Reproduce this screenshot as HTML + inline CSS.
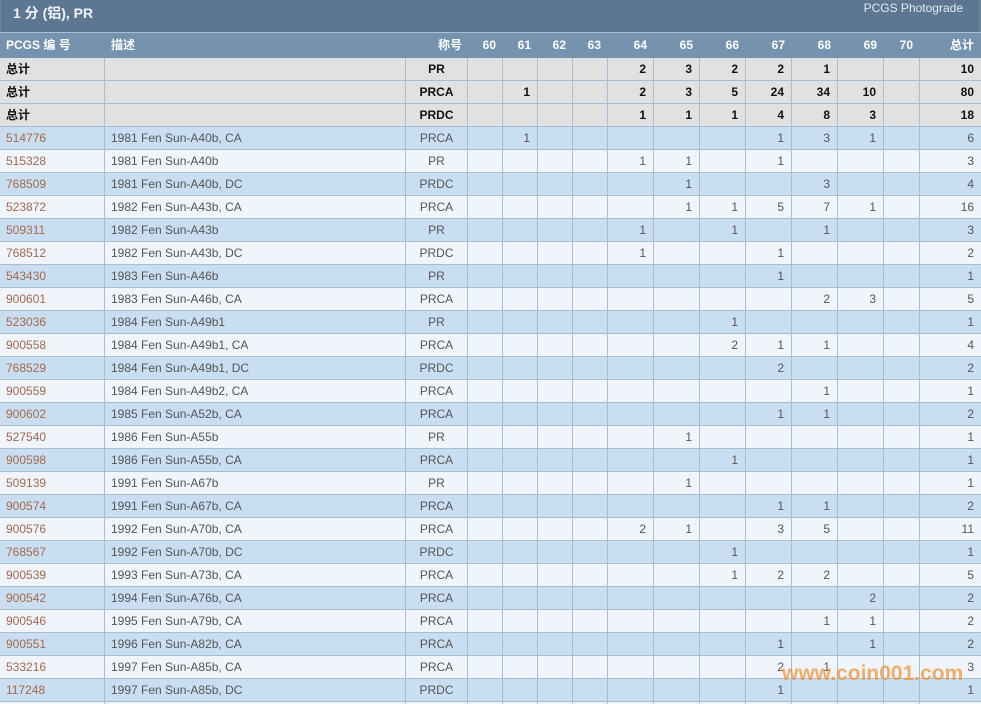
<!DOCTYPE html>
<html><head><meta charset="utf-8">
<style>
*{margin:0;padding:0;box-sizing:border-box}
html,body{width:981px;height:704px;overflow:hidden;background:#fff}
body{font-family:"Liberation Sans","Noto Sans CJK SC",sans-serif;font-size:12px;position:relative}
.top{position:absolute;left:0;top:0;width:981px;height:32px;background:#5d7792;border-left:1px solid #6d86a0;border-right:2px solid #6d86a0}
.top .t{position:absolute;left:12px;top:3px;font-size:14px;font-weight:bold;color:#eef3f8;font-family:"Liberation Sans","Noto Sans CJK SC",sans-serif}
.top .r{position:absolute;right:16px;top:1px;font-size:12px;color:#e2eaf2}
.sep{position:absolute;left:0;top:32px;width:981px;height:1px;background:#a9c0d6}
.rows{position:absolute;left:0;top:33px;width:981px}
.row{display:flex;height:23px;border-bottom:1px solid #a9bdd1;line-height:22px}
.row.h{height:25px;background:#7592ae;border-bottom:none;color:#fff;font-weight:bold;line-height:25px}
.row.g{background:#e1e1e1;color:#111;font-weight:bold}
.row.b{background:#c9dff1;color:#555}
.row.w{background:#eff5fb;color:#555}
.c{flex:none;border-right:1px solid #a9bdd1;padding:0 7px;text-align:right;white-space:nowrap;overflow:hidden}
.row.h .c{border-right:none}
.c:last-child{border-right:none}
.c0{width:105px;text-align:left;padding-left:6px}
.c1{width:301px;text-align:left;padding-left:6px}
.c2{width:62px;text-align:center;padding:0}
.n35{width:35px}
.n46{width:46px}
.n36{width:36px}
.c14{width:61px}
.lk{color:#a4694b}
.row.h .c0,.row.h .c1{padding-left:6px}
.wm{position:absolute;left:782px;top:662px;font-size:21px;font-weight:bold;color:rgba(240,145,50,0.72);letter-spacing:0px;font-family:"Liberation Sans",sans-serif}
</style></head><body>
<div class="top"><div class="t">1 分 (铝), PR</div><div class="r">PCGS Photograde</div></div>
<div class="sep"></div>
<div class="rows" id="rows">
<div class="row h"><div class="c c0">PCGS 编 号</div><div class="c c1">描述</div><div class="c c2" style="text-align:right;padding-right:6px">称号</div><div class="c n35">60</div><div class="c n35">61</div><div class="c n35">62</div><div class="c n35">63</div><div class="c n46">64</div><div class="c n46">65</div><div class="c n46">66</div><div class="c n46">67</div><div class="c n46">68</div><div class="c n46">69</div><div class="c n36">70</div><div class="c c14">总计</div></div>
<div class="row g"><div class="c c0">总计</div><div class="c c1"></div><div class="c c2">PR</div><div class="c n35"></div><div class="c n35"></div><div class="c n35"></div><div class="c n35"></div><div class="c n46">2</div><div class="c n46">3</div><div class="c n46">2</div><div class="c n46">2</div><div class="c n46">1</div><div class="c n46"></div><div class="c n36"></div><div class="c c14">10</div></div>
<div class="row g"><div class="c c0">总计</div><div class="c c1"></div><div class="c c2">PRCA</div><div class="c n35"></div><div class="c n35">1</div><div class="c n35"></div><div class="c n35"></div><div class="c n46">2</div><div class="c n46">3</div><div class="c n46">5</div><div class="c n46">24</div><div class="c n46">34</div><div class="c n46">10</div><div class="c n36"></div><div class="c c14">80</div></div>
<div class="row g"><div class="c c0">总计</div><div class="c c1"></div><div class="c c2">PRDC</div><div class="c n35"></div><div class="c n35"></div><div class="c n35"></div><div class="c n35"></div><div class="c n46">1</div><div class="c n46">1</div><div class="c n46">1</div><div class="c n46">4</div><div class="c n46">8</div><div class="c n46">3</div><div class="c n36"></div><div class="c c14">18</div></div>
<div class="row b"><div class="c c0"><span class="lk">514776</span></div><div class="c c1">1981 Fen Sun-A40b, CA</div><div class="c c2">PRCA</div><div class="c n35"></div><div class="c n35">1</div><div class="c n35"></div><div class="c n35"></div><div class="c n46"></div><div class="c n46"></div><div class="c n46"></div><div class="c n46">1</div><div class="c n46">3</div><div class="c n46">1</div><div class="c n36"></div><div class="c c14">6</div></div>
<div class="row w"><div class="c c0"><span class="lk">515328</span></div><div class="c c1">1981 Fen Sun-A40b</div><div class="c c2">PR</div><div class="c n35"></div><div class="c n35"></div><div class="c n35"></div><div class="c n35"></div><div class="c n46">1</div><div class="c n46">1</div><div class="c n46"></div><div class="c n46">1</div><div class="c n46"></div><div class="c n46"></div><div class="c n36"></div><div class="c c14">3</div></div>
<div class="row b"><div class="c c0"><span class="lk">768509</span></div><div class="c c1">1981 Fen Sun-A40b, DC</div><div class="c c2">PRDC</div><div class="c n35"></div><div class="c n35"></div><div class="c n35"></div><div class="c n35"></div><div class="c n46"></div><div class="c n46">1</div><div class="c n46"></div><div class="c n46"></div><div class="c n46">3</div><div class="c n46"></div><div class="c n36"></div><div class="c c14">4</div></div>
<div class="row w"><div class="c c0"><span class="lk">523872</span></div><div class="c c1">1982 Fen Sun-A43b, CA</div><div class="c c2">PRCA</div><div class="c n35"></div><div class="c n35"></div><div class="c n35"></div><div class="c n35"></div><div class="c n46"></div><div class="c n46">1</div><div class="c n46">1</div><div class="c n46">5</div><div class="c n46">7</div><div class="c n46">1</div><div class="c n36"></div><div class="c c14">16</div></div>
<div class="row b"><div class="c c0"><span class="lk">509311</span></div><div class="c c1">1982 Fen Sun-A43b</div><div class="c c2">PR</div><div class="c n35"></div><div class="c n35"></div><div class="c n35"></div><div class="c n35"></div><div class="c n46">1</div><div class="c n46"></div><div class="c n46">1</div><div class="c n46"></div><div class="c n46">1</div><div class="c n46"></div><div class="c n36"></div><div class="c c14">3</div></div>
<div class="row w"><div class="c c0"><span class="lk">768512</span></div><div class="c c1">1982 Fen Sun-A43b, DC</div><div class="c c2">PRDC</div><div class="c n35"></div><div class="c n35"></div><div class="c n35"></div><div class="c n35"></div><div class="c n46">1</div><div class="c n46"></div><div class="c n46"></div><div class="c n46">1</div><div class="c n46"></div><div class="c n46"></div><div class="c n36"></div><div class="c c14">2</div></div>
<div class="row b"><div class="c c0"><span class="lk">543430</span></div><div class="c c1">1983 Fen Sun-A46b</div><div class="c c2">PR</div><div class="c n35"></div><div class="c n35"></div><div class="c n35"></div><div class="c n35"></div><div class="c n46"></div><div class="c n46"></div><div class="c n46"></div><div class="c n46">1</div><div class="c n46"></div><div class="c n46"></div><div class="c n36"></div><div class="c c14">1</div></div>
<div class="row w"><div class="c c0"><span class="lk">900601</span></div><div class="c c1">1983 Fen Sun-A46b, CA</div><div class="c c2">PRCA</div><div class="c n35"></div><div class="c n35"></div><div class="c n35"></div><div class="c n35"></div><div class="c n46"></div><div class="c n46"></div><div class="c n46"></div><div class="c n46"></div><div class="c n46">2</div><div class="c n46">3</div><div class="c n36"></div><div class="c c14">5</div></div>
<div class="row b"><div class="c c0"><span class="lk">523036</span></div><div class="c c1">1984 Fen Sun-A49b1</div><div class="c c2">PR</div><div class="c n35"></div><div class="c n35"></div><div class="c n35"></div><div class="c n35"></div><div class="c n46"></div><div class="c n46"></div><div class="c n46">1</div><div class="c n46"></div><div class="c n46"></div><div class="c n46"></div><div class="c n36"></div><div class="c c14">1</div></div>
<div class="row w"><div class="c c0"><span class="lk">900558</span></div><div class="c c1">1984 Fen Sun-A49b1, CA</div><div class="c c2">PRCA</div><div class="c n35"></div><div class="c n35"></div><div class="c n35"></div><div class="c n35"></div><div class="c n46"></div><div class="c n46"></div><div class="c n46">2</div><div class="c n46">1</div><div class="c n46">1</div><div class="c n46"></div><div class="c n36"></div><div class="c c14">4</div></div>
<div class="row b"><div class="c c0"><span class="lk">768529</span></div><div class="c c1">1984 Fen Sun-A49b1, DC</div><div class="c c2">PRDC</div><div class="c n35"></div><div class="c n35"></div><div class="c n35"></div><div class="c n35"></div><div class="c n46"></div><div class="c n46"></div><div class="c n46"></div><div class="c n46">2</div><div class="c n46"></div><div class="c n46"></div><div class="c n36"></div><div class="c c14">2</div></div>
<div class="row w"><div class="c c0"><span class="lk">900559</span></div><div class="c c1">1984 Fen Sun-A49b2, CA</div><div class="c c2">PRCA</div><div class="c n35"></div><div class="c n35"></div><div class="c n35"></div><div class="c n35"></div><div class="c n46"></div><div class="c n46"></div><div class="c n46"></div><div class="c n46"></div><div class="c n46">1</div><div class="c n46"></div><div class="c n36"></div><div class="c c14">1</div></div>
<div class="row b"><div class="c c0"><span class="lk">900602</span></div><div class="c c1">1985 Fen Sun-A52b, CA</div><div class="c c2">PRCA</div><div class="c n35"></div><div class="c n35"></div><div class="c n35"></div><div class="c n35"></div><div class="c n46"></div><div class="c n46"></div><div class="c n46"></div><div class="c n46">1</div><div class="c n46">1</div><div class="c n46"></div><div class="c n36"></div><div class="c c14">2</div></div>
<div class="row w"><div class="c c0"><span class="lk">527540</span></div><div class="c c1">1986 Fen Sun-A55b</div><div class="c c2">PR</div><div class="c n35"></div><div class="c n35"></div><div class="c n35"></div><div class="c n35"></div><div class="c n46"></div><div class="c n46">1</div><div class="c n46"></div><div class="c n46"></div><div class="c n46"></div><div class="c n46"></div><div class="c n36"></div><div class="c c14">1</div></div>
<div class="row b"><div class="c c0"><span class="lk">900598</span></div><div class="c c1">1986 Fen Sun-A55b, CA</div><div class="c c2">PRCA</div><div class="c n35"></div><div class="c n35"></div><div class="c n35"></div><div class="c n35"></div><div class="c n46"></div><div class="c n46"></div><div class="c n46">1</div><div class="c n46"></div><div class="c n46"></div><div class="c n46"></div><div class="c n36"></div><div class="c c14">1</div></div>
<div class="row w"><div class="c c0"><span class="lk">509139</span></div><div class="c c1">1991 Fen Sun-A67b</div><div class="c c2">PR</div><div class="c n35"></div><div class="c n35"></div><div class="c n35"></div><div class="c n35"></div><div class="c n46"></div><div class="c n46">1</div><div class="c n46"></div><div class="c n46"></div><div class="c n46"></div><div class="c n46"></div><div class="c n36"></div><div class="c c14">1</div></div>
<div class="row b"><div class="c c0"><span class="lk">900574</span></div><div class="c c1">1991 Fen Sun-A67b, CA</div><div class="c c2">PRCA</div><div class="c n35"></div><div class="c n35"></div><div class="c n35"></div><div class="c n35"></div><div class="c n46"></div><div class="c n46"></div><div class="c n46"></div><div class="c n46">1</div><div class="c n46">1</div><div class="c n46"></div><div class="c n36"></div><div class="c c14">2</div></div>
<div class="row w"><div class="c c0"><span class="lk">900576</span></div><div class="c c1">1992 Fen Sun-A70b, CA</div><div class="c c2">PRCA</div><div class="c n35"></div><div class="c n35"></div><div class="c n35"></div><div class="c n35"></div><div class="c n46">2</div><div class="c n46">1</div><div class="c n46"></div><div class="c n46">3</div><div class="c n46">5</div><div class="c n46"></div><div class="c n36"></div><div class="c c14">11</div></div>
<div class="row b"><div class="c c0"><span class="lk">768567</span></div><div class="c c1">1992 Fen Sun-A70b, DC</div><div class="c c2">PRDC</div><div class="c n35"></div><div class="c n35"></div><div class="c n35"></div><div class="c n35"></div><div class="c n46"></div><div class="c n46"></div><div class="c n46">1</div><div class="c n46"></div><div class="c n46"></div><div class="c n46"></div><div class="c n36"></div><div class="c c14">1</div></div>
<div class="row w"><div class="c c0"><span class="lk">900539</span></div><div class="c c1">1993 Fen Sun-A73b, CA</div><div class="c c2">PRCA</div><div class="c n35"></div><div class="c n35"></div><div class="c n35"></div><div class="c n35"></div><div class="c n46"></div><div class="c n46"></div><div class="c n46">1</div><div class="c n46">2</div><div class="c n46">2</div><div class="c n46"></div><div class="c n36"></div><div class="c c14">5</div></div>
<div class="row b"><div class="c c0"><span class="lk">900542</span></div><div class="c c1">1994 Fen Sun-A76b, CA</div><div class="c c2">PRCA</div><div class="c n35"></div><div class="c n35"></div><div class="c n35"></div><div class="c n35"></div><div class="c n46"></div><div class="c n46"></div><div class="c n46"></div><div class="c n46"></div><div class="c n46"></div><div class="c n46">2</div><div class="c n36"></div><div class="c c14">2</div></div>
<div class="row w"><div class="c c0"><span class="lk">900546</span></div><div class="c c1">1995 Fen Sun-A79b, CA</div><div class="c c2">PRCA</div><div class="c n35"></div><div class="c n35"></div><div class="c n35"></div><div class="c n35"></div><div class="c n46"></div><div class="c n46"></div><div class="c n46"></div><div class="c n46"></div><div class="c n46">1</div><div class="c n46">1</div><div class="c n36"></div><div class="c c14">2</div></div>
<div class="row b"><div class="c c0"><span class="lk">900551</span></div><div class="c c1">1996 Fen Sun-A82b, CA</div><div class="c c2">PRCA</div><div class="c n35"></div><div class="c n35"></div><div class="c n35"></div><div class="c n35"></div><div class="c n46"></div><div class="c n46"></div><div class="c n46"></div><div class="c n46">1</div><div class="c n46"></div><div class="c n46">1</div><div class="c n36"></div><div class="c c14">2</div></div>
<div class="row w"><div class="c c0"><span class="lk">533216</span></div><div class="c c1">1997 Fen Sun-A85b, CA</div><div class="c c2">PRCA</div><div class="c n35"></div><div class="c n35"></div><div class="c n35"></div><div class="c n35"></div><div class="c n46"></div><div class="c n46"></div><div class="c n46"></div><div class="c n46">2</div><div class="c n46">1</div><div class="c n46"></div><div class="c n36"></div><div class="c c14">3</div></div>
<div class="row b"><div class="c c0"><span class="lk">117248</span></div><div class="c c1">1997 Fen Sun-A85b, DC</div><div class="c c2">PRDC</div><div class="c n35"></div><div class="c n35"></div><div class="c n35"></div><div class="c n35"></div><div class="c n46"></div><div class="c n46"></div><div class="c n46"></div><div class="c n46">1</div><div class="c n46"></div><div class="c n46"></div><div class="c n36"></div><div class="c c14">1</div></div>
<div class="row w" style="border-bottom:none"><div class="c c0"></div><div class="c c1"></div><div class="c c2"></div><div class="c n35"></div><div class="c n35"></div><div class="c n35"></div><div class="c n35"></div><div class="c n46"></div><div class="c n46"></div><div class="c n46"></div><div class="c n46"></div><div class="c n46"></div><div class="c n46"></div><div class="c n36"></div><div class="c c14"></div></div>
</div>
<div class="wm">www.coin001.com</div>
</body></html>
